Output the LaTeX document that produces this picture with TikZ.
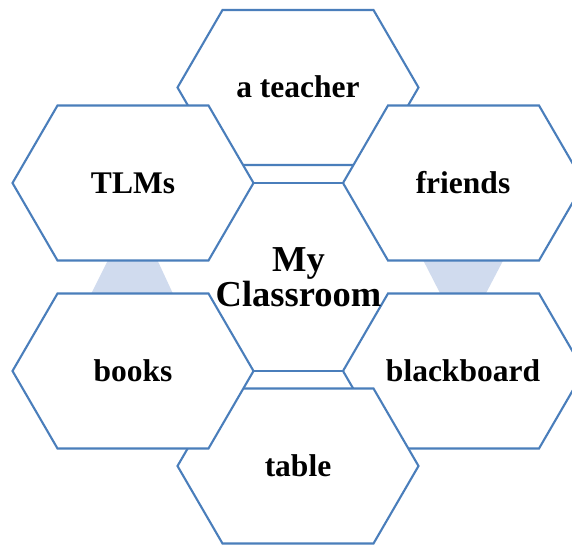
\documentclass[tikz,border=0pt]{standalone}
\usepackage{fontspec}
\setmainfont{Liberation Serif}
\usetikzlibrary{calc}
\definecolor{hexline}{RGB}{74,126,187}
\definecolor{hexfill}{RGB}{208,219,238}
\tikzset{
  hexbox/.style={draw=hexline, line width=2.1pt, fill=white, line join=miter},
  linkband/.style={fill=hexfill, draw=none},
  midedge/.style={draw=hexline, line width=2.1pt},
  lbl/.style={font=\bfseries\fontsize{31.5}{36}\selectfont, anchor=base, inner sep=0pt},
  mainlbl/.style={font=\bfseries\fontsize{36.5}{35}\selectfont, align=center, inner sep=0pt}
}
\newcommand\hexshape[1]{%
  \draw[hexbox] (#1) ++(-120.5,0) -- ++(45,-77.5) -- ++(151,0) -- ++(45,77.5)
    -- ++(-45,77.5) -- ++(-151,0) -- cycle;}
\begin{document}
\begin{tikzpicture}[x=1pt,y=-1pt]
\clip (0,0) rectangle (572,545);
\fill[white] (0,0) rectangle (572,545);
% centres
\coordinate (teacher) at (298,87.5);
\coordinate (tlms) at (133,183);
\coordinate (friends) at (463.5,183);
\coordinate (books) at (133,371);
\coordinate (board) at (463.5,371);
\coordinate (table) at (298,466);
\coordinate (centre) at (298,277);
% light bands between outer hexagons
\fill[linkband] (110.5,255) -- (155,255) -- (174.5,297) -- (89.5,297) -- cycle;
\fill[linkband] (420.5,255) -- (506,255) -- (484,297) -- (442,297) -- cycle;
% outer hexagons, in stacking order
\hexshape{teacher}
\hexshape{tlms}
\hexshape{friends}
\hexshape{board}
\hexshape{table}
\hexshape{books}
% visible edges of the centre hexagon
\coordinate (tlmsR) at ($(tlms)+(120.5,0)$);
\coordinate (friendsL) at ($(friends)+(-120.5,0)$);
\coordinate (booksR) at ($(books)+(120.5,0)$);
\coordinate (boardL) at ($(board)+(-120.5,0)$);
\draw[midedge] (tlmsR) -- (friendsL);
\draw[midedge] (booksR) -- (boardL);
% labels
\node[lbl] (tteacher) at (298,98) {a teacher};
\node[lbl] (ttlms) at (133,193.5) {TLMs};
\node[lbl] (tfriends) at (463,193.5) {friends};
\node[lbl] (tbooks) at (133,381) {books};
\node[lbl] (tboard) at (463,381) {blackboard};
\node[lbl] (ttable) at (298,476.5) {table};
\node[mainlbl] (tcentre) at (298.5,277) {My\\Classroom};
\end{tikzpicture}
\end{document}
